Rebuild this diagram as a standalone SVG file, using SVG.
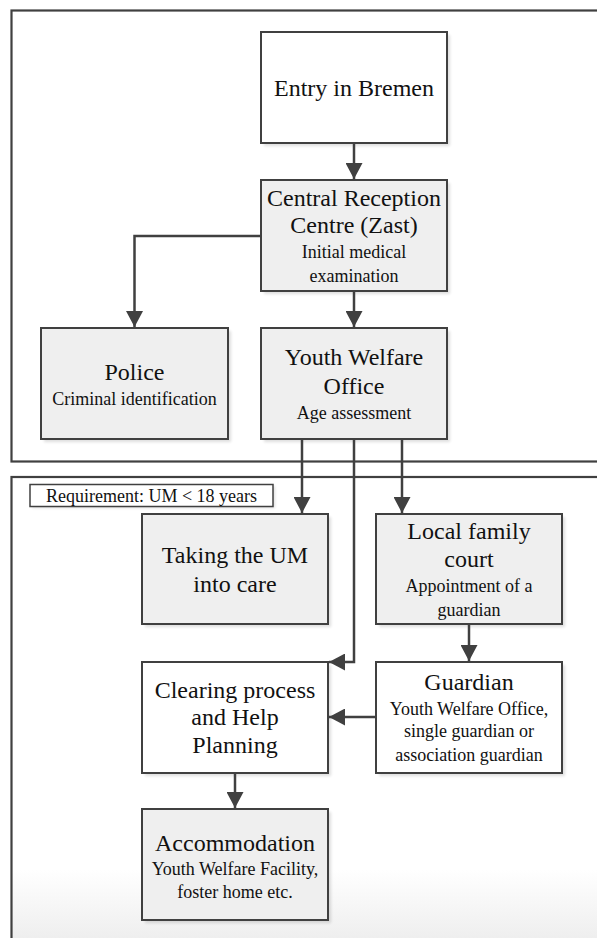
<svg xmlns="http://www.w3.org/2000/svg" width="597" height="938" viewBox="0 0 597 938">
<style>
.frame{fill:none;stroke:#404040;stroke-width:2.2}
.box{stroke:#404040;stroke-width:2}
.g{fill:#efefef}
.w{fill:#ffffff}
.sh{fill:#000;opacity:0.13;filter:url(#blur)}
.t{font-family:"Liberation Serif","Times New Roman",serif;font-size:24px;fill:#111;text-anchor:middle}
.s{font-family:"Liberation Serif","Times New Roman",serif;font-size:18px;fill:#111;text-anchor:middle}
.c{fill:none;stroke:#404040;stroke-width:2.5}
</style>
<defs>
<filter id="blur" x="-10%" y="-10%" width="120%" height="120%"><feGaussianBlur stdDeviation="1.5"/></filter>
<marker id="ah" markerUnits="userSpaceOnUse" markerWidth="17" markerHeight="17" refX="16" refY="8.5" orient="auto">
<path d="M0,0 L16,8.5 L0,17 z" fill="#404040"/>
</marker>
<linearGradient id="bg" x1="0" y1="0" x2="0" y2="1">
<stop offset="0" stop-color="#ffffff"/>
<stop offset="1" stop-color="#eeeeee"/>
</linearGradient>
</defs>
<rect x="0" y="0" width="597" height="938" fill="#ffffff"/>
<rect x="12" y="870" width="590" height="70" fill="url(#bg)"/>
<g id="frames">
<rect class="frame" x="11.5" y="10.5" width="600" height="451"/>
<rect class="frame" x="11.5" y="477" width="600" height="480"/>
</g>
<g id="entry">
<rect class="sh" x="264" y="35" width="186" height="111"/>
<rect class="box w" x="261" y="32" width="186" height="111"/>
<text class="t" x="354" y="96">Entry in Bremen</text>
</g>
<g id="central">
<rect class="sh" x="264" y="183" width="186" height="111"/>
<rect class="box g" x="261" y="180" width="186" height="111"/>
<text class="t" x="354" y="206">Central Reception</text>
<text class="t" x="354" y="233">Centre (Zast)</text>
<text class="s" x="354" y="258">Initial medical</text>
<text class="s" x="354" y="282">examination</text>
</g>
<g id="police">
<rect class="sh" x="44" y="331" width="187" height="111"/>
<rect class="box g" x="41" y="328" width="187" height="111"/>
<text class="t" x="134.5" y="380">Police</text>
<text class="s" x="134.5" y="405">Criminal identification</text>
</g>
<g id="ywo">
<rect class="sh" x="264" y="331" width="186" height="111"/>
<rect class="box g" x="261" y="328" width="186" height="111"/>
<text class="t" x="354" y="365">Youth Welfare</text>
<text class="t" x="354" y="394">Office</text>
<text class="s" x="354" y="419">Age assessment</text>
</g>
<g id="requirement">
<rect class="sh" x="32" y="486" width="243" height="22"/>
<rect class="box w" x="30" y="484.5" width="243" height="22" style="stroke-width:1.5"/>
<text class="s" x="151.5" y="501.5">Requirement: UM &lt; 18 years</text>
</g>
<g id="taking">
<rect class="sh" x="145" y="517" width="186" height="110"/>
<rect class="box g" x="142" y="514" width="186" height="110"/>
<text class="t" x="235" y="563">Taking the UM</text>
<text class="t" x="235" y="592">into care</text>
</g>
<g id="court">
<rect class="sh" x="379" y="517" width="186" height="110"/>
<rect class="box g" x="376" y="514" width="186" height="110"/>
<text class="t" x="469" y="539">Local family</text>
<text class="t" x="469" y="567">court</text>
<text class="s" x="469" y="592">Appointment of a</text>
<text class="s" x="469" y="616">guardian</text>
</g>
<g id="clearing">
<rect class="sh" x="145" y="665" width="186" height="111"/>
<rect class="box w" x="142" y="662" width="186" height="111"/>
<text class="t" x="235" y="698">Clearing process</text>
<text class="t" x="235" y="725">and Help</text>
<text class="t" x="235" y="753">Planning</text>
</g>
<g id="guardian">
<rect class="sh" x="379" y="665" width="186" height="111"/>
<rect class="box w" x="376" y="662" width="186" height="111"/>
<text class="t" x="469" y="690">Guardian</text>
<text class="s" x="469" y="715">Youth Welfare Office,</text>
<text class="s" x="469" y="737">single guardian or</text>
<text class="s" x="469" y="761">association guardian</text>
</g>
<g id="accommodation">
<rect class="sh" x="145" y="812" width="186" height="111"/>
<rect class="box g" x="142" y="809" width="186" height="111"/>
<text class="t" x="235" y="851">Accommodation</text>
<text class="s" x="235" y="875">Youth Welfare Facility,</text>
<text class="s" x="235" y="898">foster home etc.</text>
</g>
<g id="connectors">
<path class="c" d="M354,143 V179" marker-end="url(#ah)"/>
<path class="c" d="M261,236 H134.5 V327" marker-end="url(#ah)"/>
<path class="c" d="M354,291 V327" marker-end="url(#ah)"/>
<path class="c" d="M302,439 V513" marker-end="url(#ah)"/>
<path class="c" d="M402,439 V513" marker-end="url(#ah)"/>
<path class="c" d="M354,439 V662 H329" marker-end="url(#ah)"/>
<path class="c" d="M469,624 V661" marker-end="url(#ah)"/>
<path class="c" d="M376,717 H329" marker-end="url(#ah)"/>
<path class="c" d="M235,773 V808" marker-end="url(#ah)"/>
</g>
</svg>
